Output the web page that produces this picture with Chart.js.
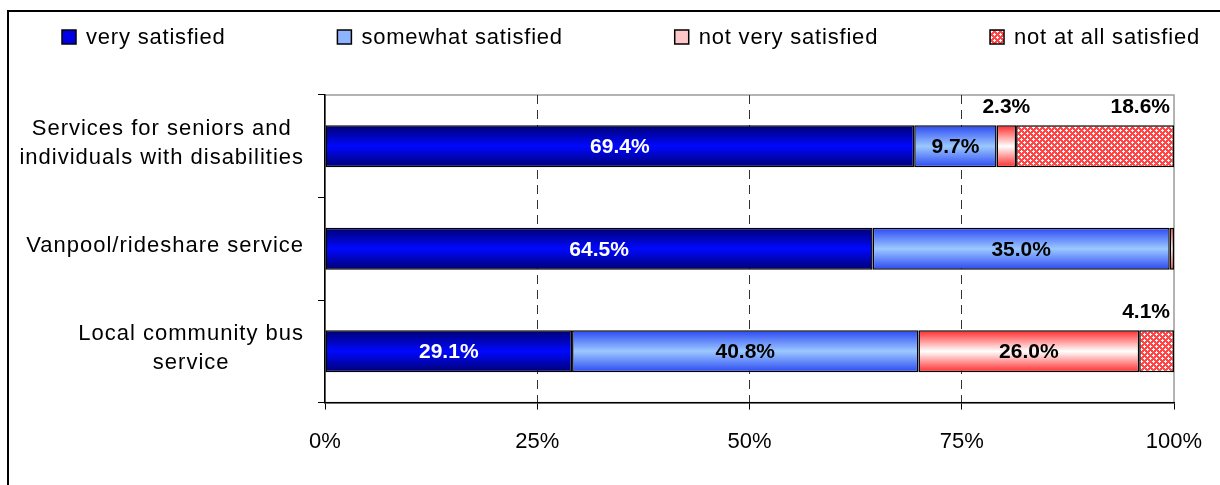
<!DOCTYPE html>
<html>
<head>
<meta charset="utf-8">
<title>Satisfaction with transit services</title>
<script src="https://cdn.jsdelivr.net/npm/chart.js@4.4.1/dist/chart.umd.min.js"></script>
<style>
    html, body { margin: 0; padding: 0; background: #fff; }
    #frame {
        position: absolute; left: 7px; top: 10px; width: 1300px; height: 600px;
        border-left: 2px solid #000; border-top: 2px solid #000;
    }
    #wrap { position: absolute; left: 0; top: 0; width: 1220px; height: 485px; }
</style>
</head>
<body>
<div id="frame"></div>
<div id="wrap"><canvas id="satChart"></canvas></div>
<script>
/* Satisfaction by service — stacked horizontal percent bars */

const services = [
    ['Services for seniors and', 'individuals with disabilities'],
    ['Vanpool/rideshare service'],
    ['Local community bus', 'service']
];
const ratingNames = ['very satisfied', 'somewhat satisfied', 'not very satisfied', 'not at all satisfied'];

const verySatisfied     = [69.4, 64.5, 29.1];
const somewhatSatisfied = [9.7, 35.0, 40.8];
const notVerySatisfied  = [2.3, 0.5, 26.0];
const notAtAllSatisfied = [18.6, 0.0, 4.1];

const xTicks = [0, 25, 50, 75, 100];

const FONT = '"Liberation Sans", Arial, sans-serif';
const BAR_PCT = 0.41;

// red/white check used for "not at all satisfied"
function makeHatch() {
    const c = document.createElement('canvas');
    c.width = 6; c.height = 6;
    const g = c.getContext('2d');
    g.fillStyle = '#ff4545';
    g.fillRect(0, 0, 6, 6);
    g.fillStyle = '#ffffff';
    g.fillRect(1, 0, 1, 3); g.fillRect(0, 1, 3, 1);
    g.fillRect(4, 3, 1, 3); g.fillRect(3, 4, 3, 1);
    return g.createPattern(c, 'repeat');
}
const hatch = makeHatch();

// vertical shading: edge colour -> centre colour -> edge colour
function shaded(edge, centre, fallback) {
    return function (ctx) {
        const chart = ctx.chart;
        if (!chart.chartArea || ctx.dataIndex === undefined) return fallback;
        const y = chart.scales.y;
        const mid = y.getPixelForValue(ctx.dataIndex);
        const h = (y.height / services.length) * BAR_PCT;
        const g = chart.ctx.createLinearGradient(0, mid - h / 2, 0, mid + h / 2);
        g.addColorStop(0, edge);
        g.addColorStop(0.5, centre);
        g.addColorStop(1, edge);
        return g;
    };
}

const seriesStyles = [
    { fill: shaded('#000070', '#0008ff', '#0000e0'), swatch: '#0000e6' },
    { fill: shaded('#2a48f2', '#9cc8ff', '#80a8ff'), swatch: '#8fb4ff' },
    { fill: shaded('#ff2a2a', '#ffffff', '#ffb0b0'), swatch: '#ffc8c8' },
    { fill: hatch, swatch: hatch }
];

const seriesValues = [verySatisfied, somewhatSatisfied, notVerySatisfied, notAtAllSatisfied];

const datasets = seriesValues.map((vals, i) => ({
    label: ratingNames[i],
    data: vals,
    backgroundColor: seriesStyles[i].fill,
    borderColor: '#000',
    borderWidth: 1.5,
    borderSkipped: false,
    categoryPercentage: 1,
    barPercentage: BAR_PCT
}));

// legend row across the top, spread between two edges
const legendRow = {
    id: 'legendRow',
    afterDraw(chart) {
        const c = chart.ctx;
        c.save();
        c.font = '22px ' + FONT;
        c.letterSpacing = '0.8px';
        c.textBaseline = 'middle';
        const left = 62, right = 1200, y = 37;
        const widths = ratingNames.map(n => 24 + c.measureText(n).width);
        const gap = (right - left - widths.reduce((s, w) => s + w, 0)) / (ratingNames.length - 1);
        let x = left;
        ratingNames.forEach((name, i) => {
            c.fillStyle = seriesStyles[i].swatch;
            c.fillRect(x, y - 7, 14, 14);
            c.strokeStyle = '#000';
            c.lineWidth = 1.5;
            c.strokeRect(x, y - 7, 14, 14);
            c.fillStyle = '#000';
            c.textAlign = 'left';
            c.fillText(name, x + 24, y + 1);
            x += widths[i] + gap;
        });
        c.restore();
    }
};

// plot frame plus category names (block right-aligned, lines centred)
const frameAndNames = {
    id: 'frameAndNames',
    beforeDraw(chart) {
        const a = chart.chartArea;
        const c = chart.ctx;
        c.save();
        c.strokeStyle = '#9a9a9a';
        c.lineWidth = 1.5;
        c.strokeRect(a.left, a.top, a.right - a.left, a.bottom - a.top);
        c.restore();
    },
    afterDraw(chart) {
        const c = chart.ctx;
        const y = chart.scales.y;
        c.save();
        c.font = '22px ' + FONT;
        c.letterSpacing = '1px';
        c.fillStyle = '#000';
        c.textAlign = 'center';
        c.textBaseline = 'middle';
        const right = 304;
        const lh = 29;
        services.forEach((lines, i) => {
            const w = Math.max(...lines.map(l => c.measureText(l).width));
            const cx = right - w / 2;
            const mid = y.getPixelForValue(i) - 3;
            lines.forEach((l, j) => {
                c.fillText(l, cx, mid + (j - (lines.length - 1) / 2) * lh);
            });
        });
        c.restore();
    }
};

// percentage labels on the segments
const valueLabels = {
    id: 'valueLabels',
    afterDatasetsDraw(chart) {
        const c = chart.ctx;
        c.save();
        c.font = 'bold 21px ' + FONT;
        c.textBaseline = 'middle';
        chart.data.datasets.forEach((ds, i) => {
            chart.getDatasetMeta(i).data.forEach((bar, j) => {
                const v = ds.data[j];
                if (v < 1) return;
                const cx = (bar.x + bar.base) / 2;
                const above = bar.y - bar.height / 2 - 18;
                const txt = v.toFixed(1) + '%';
                c.fillStyle = '#000';
                if (i === 3) {
                    c.textAlign = 'right';
                    c.fillText(txt, bar.x - 4, above);
                } else if (v < 5) {
                    c.textAlign = 'center';
                    c.fillText(txt, cx, above);
                } else {
                    c.textAlign = 'center';
                    c.fillStyle = i === 0 ? '#fff' : '#000';
                    c.fillText(txt, cx, bar.y + 1);
                }
            });
        });
        c.restore();
    }
};

const ctx = document.getElementById('satChart').getContext('2d');
new Chart(ctx, {
    type: 'bar',
    data: { labels: services, datasets },
    options: {
        indexAxis: 'y',
        responsive: true,
        maintainAspectRatio: false,
        animation: false,
        layout: { padding: { top: 95, left: 318, right: 46, bottom: 11 } },
        plugins: {
            legend: { display: false },
            tooltip: { enabled: false }
        },
        scales: {
            x: {
                stacked: true,
                min: 0,
                max: 100,
                afterBuildTicks: axis => { axis.ticks = xTicks.map(v => ({ value: v })); },
                afterFit: axis => { axis.paddingLeft = 0; axis.paddingRight = 0; },
                ticks: {
                    color: '#000',
                    font: { family: FONT, size: 22 },
                    padding: 19,
                    maxRotation: 0,
                    callback: v => v + '%'
                },
                grid: {
                    color: c => (c.tick && (c.tick.value === 0 || c.tick.value === 100)) ? 'transparent' : '#333',
                    tickColor: '#000',
                    tickLength: 7,
                    lineWidth: 1,
                    tickBorderDash: []
                },
                border: { display: true, color: '#000', width: 1.5, dash: [9, 6] }
            },
            y: {
                stacked: true,
                ticks: { display: false },
                grid: {
                    drawOnChartArea: false,
                    drawTicks: true,
                    tickLength: 7,
                    tickColor: '#000',
                    offset: true
                },
                border: { display: true, color: '#000', width: 1.5 }
            }
        }
    },
    plugins: [frameAndNames, valueLabels, legendRow]
});
</script>
</body>
</html>
